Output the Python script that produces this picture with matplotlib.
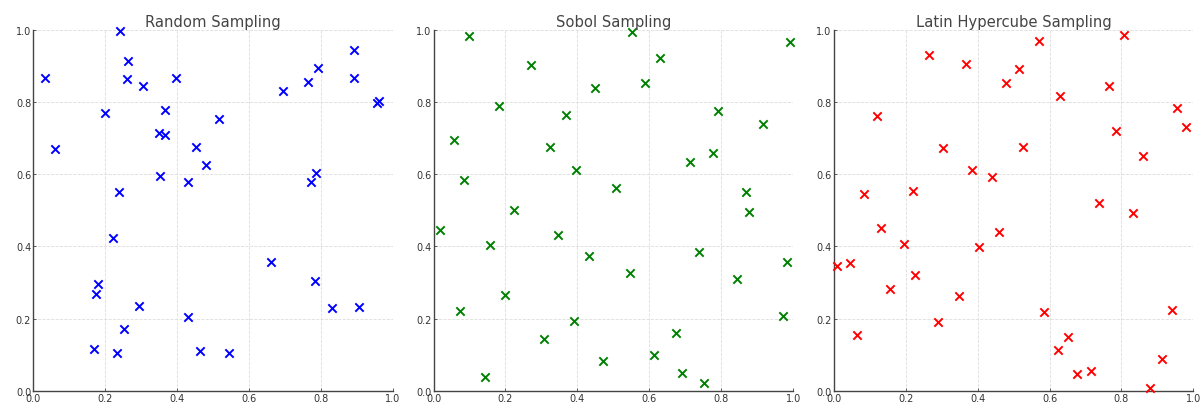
import numpy as np
import matplotlib.pyplot as plt

# 40 sample points per method (x, y in the unit square)
random_x = [0.032, 0.061, 0.240, 0.264, 0.261, 0.305, 0.396, 0.198, 0.366, 0.350,
            0.367, 0.515, 0.451, 0.480, 0.351, 0.431, 0.238, 0.693, 0.764, 0.793,
            0.893, 0.893, 0.956, 0.960, 0.772, 0.787, 0.222, 0.181, 0.175, 0.294,
            0.251, 0.168, 0.234, 0.429, 0.463, 0.543, 0.661, 0.782, 0.831, 0.907]
random_y = [0.866, 0.669, 0.995, 0.912, 0.863, 0.843, 0.866, 0.770, 0.777, 0.713,
            0.709, 0.753, 0.675, 0.624, 0.596, 0.577, 0.550, 0.829, 0.854, 0.895,
            0.943, 0.866, 0.796, 0.802, 0.578, 0.602, 0.424, 0.296, 0.269, 0.234,
            0.172, 0.116, 0.105, 0.203, 0.111, 0.105, 0.356, 0.303, 0.229, 0.233]

sobol_x = [0.099, 0.552, 0.991, 0.272, 0.631, 0.448, 0.587, 0.183, 0.368, 0.790,
           0.916, 0.058, 0.325, 0.713, 0.776, 0.085, 0.397, 0.507, 0.868, 0.225,
           0.877, 0.018, 0.156, 0.346, 0.433, 0.546, 0.737, 0.845, 0.983, 0.074,
           0.199, 0.390, 0.308, 0.972, 0.144, 0.470, 0.612, 0.673, 0.691, 0.751]
sobol_y = [0.983, 0.993, 0.965, 0.902, 0.922, 0.839, 0.852, 0.789, 0.764, 0.776,
           0.739, 0.694, 0.676, 0.633, 0.658, 0.585, 0.612, 0.562, 0.550, 0.501,
           0.496, 0.446, 0.404, 0.432, 0.372, 0.326, 0.385, 0.309, 0.356, 0.220,
           0.264, 0.192, 0.143, 0.207, 0.039, 0.082, 0.100, 0.159, 0.048, 0.021]

lhs_x = [0.264, 0.368, 0.479, 0.516, 0.571, 0.806, 0.630, 0.766, 0.121, 0.305,
         0.527, 0.786, 0.954, 0.979, 0.861, 0.383, 0.441, 0.083, 0.221, 0.738,
         0.831, 0.131, 0.194, 0.404, 0.460, 0.009, 0.045, 0.227, 0.155, 0.347,
         0.291, 0.064, 0.585, 0.623, 0.652, 0.676, 0.715, 0.880, 0.913, 0.941]
lhs_y = [0.929, 0.906, 0.852, 0.891, 0.968, 0.985, 0.817, 0.843, 0.760, 0.673,
         0.676, 0.718, 0.784, 0.731, 0.650, 0.610, 0.591, 0.544, 0.553, 0.520,
         0.493, 0.450, 0.407, 0.399, 0.440, 0.346, 0.355, 0.320, 0.283, 0.262,
         0.191, 0.155, 0.218, 0.112, 0.149, 0.047, 0.055, 0.007, 0.088, 0.224]

titles = ["Random Sampling", "Sobol Sampling", "Latin Hypercube Sampling"]
colors = ["blue", "green", "red"]
samples = [(random_x, random_y), (sobol_x, sobol_y), (lhs_x, lhs_y)]

fig, axes = plt.subplots(1, 3, figsize=(12.03, 4.06), dpi=100)
fig.subplots_adjust(left=0.0277, right=0.992, bottom=0.0352, top=0.9244, wspace=0.113)

for ax, (xs, ys), color, title in zip(axes, samples, colors, titles):
    ax.scatter(xs, ys, marker="x", color=color, s=36, linewidths=1.4, clip_on=False, zorder=3)
    ax.set_xlim(0, 1)
    ax.set_ylim(0, 1)
    ax.set_title(title, fontsize=10.6, color="#444444", pad=3)
    ax.grid(True, linestyle="--", linewidth=0.6, color="#dddddd")
    ax.set_axisbelow(True)
    for side in ["top", "right"]:
        ax.spines[side].set_visible(False)
    for side in ["left", "bottom"]:
        ax.spines[side].set_color("#444444")
        ax.spines[side].set_linewidth(1.0)
    ax.tick_params(direction="in", length=2, width=0.6, colors="#444444",
                   labelsize=7, pad=1.5, labelcolor="#333333")

fig.savefig("out.png", dpi=100)
